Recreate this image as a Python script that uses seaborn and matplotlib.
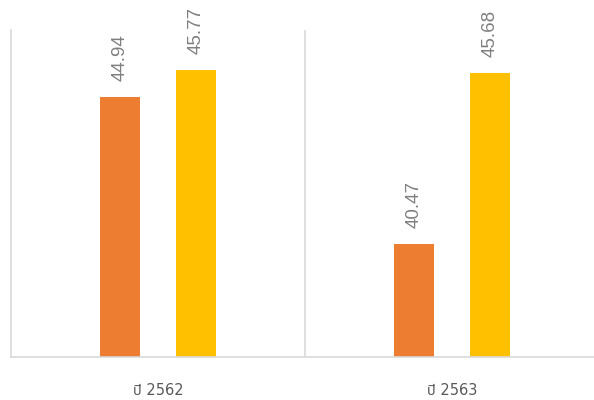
import pandas as pd
import seaborn as sns
import matplotlib.pyplot as plt

# Data
years = ["ปี 2562", "ปี 2563"]
series_names = ["A", "B"]
orange_vals = [44.94, 40.47]
yellow_vals = [45.77, 45.68]

df = pd.DataFrame({
    "year": years * 2,
    "series": [series_names[0]] * 2 + [series_names[1]] * 2,
    "value": orange_vals + yellow_vals,
})

sns.set_style("white")
plt.rcParams["font.family"] = ["Liberation Sans", "Noto Sans Thai", "DejaVu Sans"]

fig = plt.figure(figsize=(5.94, 4.0), dpi=100)
ax = fig.add_axes([11 / 594, 43 / 400, 588 / 594, 327 / 400])

sns.barplot(data=df, x="year", y="value", hue="series",
            palette=["#ED7D31", "#FFC000"], width=0.52, gap=0.47,
            dodge=True, legend=False, ax=ax, saturation=1, linewidth=0)

ax.set_ylim(37, 47)
ax.set_xlim(-0.5, 1.5)
ax.set_xlabel("")
ax.set_ylabel("")
ax.set_yticks([])
ax.tick_params(axis="x", length=0, pad=19, labelsize=10.5, labelcolor="#595959")
for lbl in ax.get_xticklabels():
    lbl.set_family(["DejaVu Sans", "Noto Sans Thai"])

# data labels
for cont in ax.containers:
    for bar in cont:
        h = bar.get_height()
        ax.annotate(f"{h:.2f}", (bar.get_x() + bar.get_width() / 2, h),
                    xytext=(0, 11.5), textcoords="offset points",
                    ha="center", va="bottom", rotation=90,
                    fontsize=13.5, color="#7f7f7f")

ax.axvline(0.5, color="#d9d9d9", lw=1.2)
for side in ["top", "right"]:
    ax.spines[side].set_visible(False)
for side in ["left", "bottom"]:
    ax.spines[side].set_color("#d9d9d9")
    ax.spines[side].set_linewidth(1.2)

fig.savefig("out.png", dpi=100)
